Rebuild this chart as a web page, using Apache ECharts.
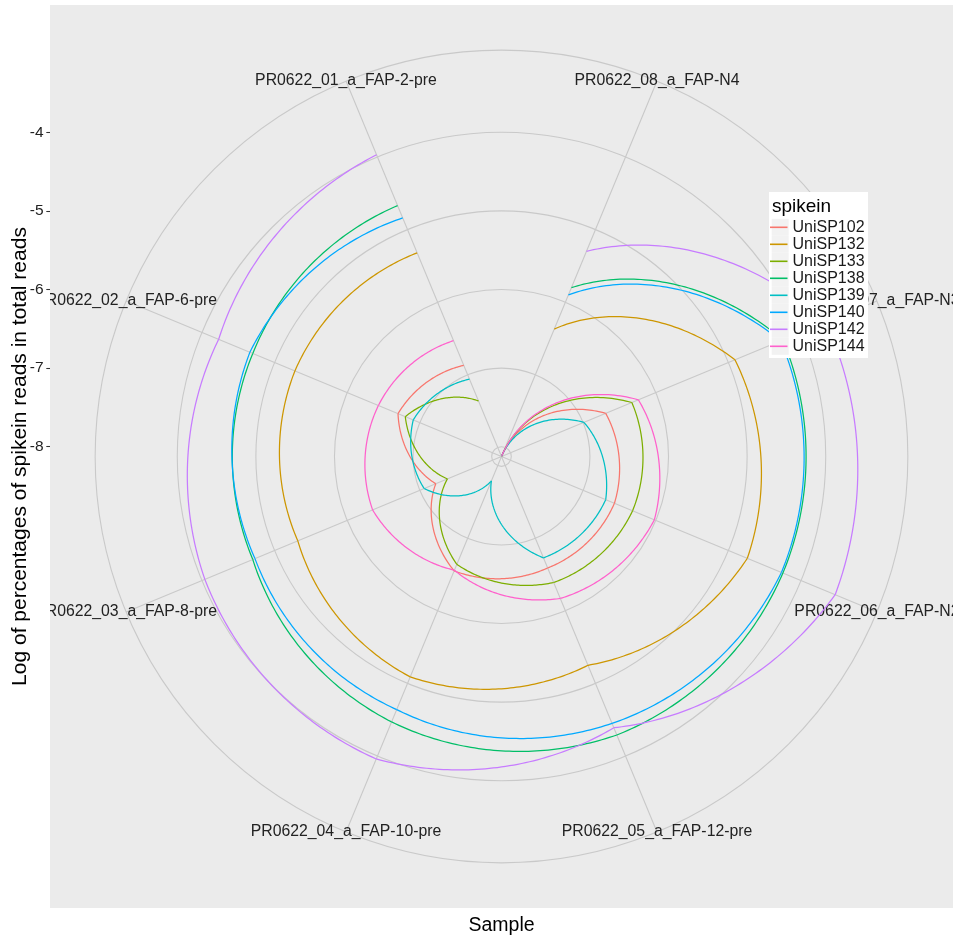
<!DOCTYPE html>
<html>
<head>
<meta charset="utf-8">
<script src="https://cdn.jsdelivr.net/npm/echarts@6/dist/echarts.min.js"></script>
<style>
  html, body { margin: 0; padding: 0; background: #ffffff; }
  #chart { width: 955px; height: 938px; }
</style>
</head>
<body>
<div id="chart"></div>
<script>
// Samples placed around the circle (theta), counter-clockwise from the top-left spoke
const samples = [
  'PR0622_01_a_FAP-2-pre',
  'PR0622_02_a_FAP-6-pre',
  'PR0622_03_a_FAP-8-pre',
  'PR0622_04_a_FAP-10-pre',
  'PR0622_05_a_FAP-12-pre',
  'PR0622_06_a_FAP-N2',
  'PR0622_07_a_FAP-N3',
  'PR0622_08_a_FAP-N4'
];

const spikeins = ['UniSP102', 'UniSP132', 'UniSP133', 'UniSP138', 'UniSP139', 'UniSP140', 'UniSP142', 'UniSP144'];

// Log of percentages of spikein reads in total reads, one value per sample
const UniSP102 = [-6.87, -6.70, -7.22, -6.55, -6.59, -6.57, -6.69, -8.12];
const UniSP132 = [-5.32, -5.28, -5.32, -5.09, -5.25, -4.74, -4.91, -6.37];
const UniSP133 = [-7.36, -6.80, -7.38, -6.64, -6.39, -6.32, -6.33, -8.12];
const UniSP138 = [-4.67, -4.70, -4.70, -4.47, -4.29, -4.25, -4.25, -5.80];
const UniSP139 = [-7.06, -6.91, -7.06, -7.79, -6.73, -6.69, -6.99, -8.12];
const UniSP140 = [-4.84, -4.66, -4.73, -4.64, -4.45, -4.27, -4.28, -5.90];
const UniSP142 = [-3.97, -4.23, -4.04, -3.96, -4.39, -3.53, -3.66, -5.30];
const UniSP144 = [-6.53, -6.43, -6.35, -6.56, -6.17, -6.02, -6.24, -8.12];

// Radial tick labels
const radialTicks = [-8, -7, -6, -5, -4];

const valuesBySpikein = { UniSP102, UniSP132, UniSP133, UniSP138, UniSP139, UniSP140, UniSP142, UniSP144 };
const palette = ['#F8766D', '#CD9600', '#7CAE00', '#00BE67', '#00BFC4', '#00A9FF', '#C77CFF', '#FF61CC'];

// ---- layout ----
const FONT = "'Liberation Sans', Arial, Helvetica, sans-serif";
const PANEL = { left: 50, top: 5, size: 903 };
const CX = PANEL.left + PANEL.size / 2;
const CY = PANEL.top + PANEL.size / 2;
const OUTER = 0.45 * PANEL.size;        // outer ring of the polar panel
const PX_PER_UNIT = 78.6;               // radial scale
const R_MIN = -8.125;                   // value at the centre
const R_OUTER = R_MIN + OUTER / PX_PER_UNIT;
const Y_TOP = R_MIN + (CY - PANEL.top) / PX_PER_UNIT;
const Y_BOTTOM = R_MIN - (PANEL.top + PANEL.size - CY) / PX_PER_UNIT;
const GRID_COLOR = '#C9C9C9';
const TEXT_COLOR = '#222222';

// A straight line in (theta, r) space is a spiral on screen: sample it finely via the polar coord.
function spiralSeries(name, values, color) {
  return {
    type: 'custom',
    name: name,
    coordinateSystem: 'polar',
    z: 3,
    silent: true,
    itemStyle: { color: color },
    data: values.map((v, i) => [v, i + 1]),
    renderItem: function (params, api) {
      const i = params.dataIndex;
      if (i >= values.length - 1) return { type: 'group', children: [] };
      const a0 = i + 1, v0 = values[i], v1 = values[i + 1];
      const steps = 60;
      const pts = [];
      for (let k = 0; k <= steps; k++) {
        const t = k / steps;
        pts.push(api.coord([v0 + (v1 - v0) * t, a0 + t]));
      }
      return {
        type: 'polyline',
        shape: { points: pts },
        style: { stroke: color, fill: null, lineWidth: 1.25 }
      };
    }
  };
}

// Concentric grid circles at the radial ticks
const ringSeries = {
  type: 'custom',
  coordinateSystem: 'polar',
  z: 1,
  silent: true,
  data: radialTicks.map(v => [v, 0]),
  renderItem: function (params, api) {
    const c = api.coord([R_MIN, 0]);
    const p = api.coord([api.value(0), 0]);
    const r = Math.hypot(p[0] - c[0], p[1] - c[1]);
    return {
      type: 'circle',
      shape: { cx: c[0], cy: c[1], r: r },
      style: { fill: null, stroke: GRID_COLOR, lineWidth: 1.1 }
    };
  }
};

// Sample names centred on the ends of the spokes
const sampleLabelSeries = {
  type: 'custom',
  coordinateSystem: 'polar',
  z: 2,
  silent: true,
  data: samples.map((s, i) => [R_OUTER, i + 1]),
  renderItem: function (params, api) {
    const p = api.coord([R_OUTER, api.value(1)]);
    return {
      type: 'text',
      x: p[0],
      y: p[1],
      style: {
        text: samples[params.dataIndex],
        fill: TEXT_COLOR,
        fontSize: 15.8,
        fontFamily: FONT,
        align: 'center',
        verticalAlign: 'middle'
      }
    };
  }
};

const LEGEND = { x: 769, y: 192, w: 99, h: 166, keyX: 771.7, keyY: 218.8, key: 17 };
const legendGraphics = [
  { type: 'rect', z: 5, silent: true, shape: { x: 0, y: 0, width: PANEL.left, height: 938 }, style: { fill: '#ffffff' } },
  { type: 'rect', z: 5, silent: true, shape: { x: PANEL.left + PANEL.size, y: 0, width: 10, height: 938 }, style: { fill: '#ffffff' } },
  { type: 'rect', z: 9, silent: true, shape: { x: LEGEND.x, y: LEGEND.y, width: LEGEND.w, height: LEGEND.h }, style: { fill: '#ffffff' } },
  { type: 'text', z: 10, silent: true, x: 772, y: 207, style: { text: 'spikein', fill: '#000000', fontSize: 19, fontFamily: FONT, verticalAlign: 'middle', align: 'left' } }
].concat(spikeins.map((s, k) => ({
  type: 'rect', z: 10, silent: true,
  shape: { x: LEGEND.keyX, y: LEGEND.keyY + k * LEGEND.key, width: LEGEND.key, height: LEGEND.key },
  style: { fill: '#F2F2F2' }
})));

const option = {
  animation: false,
  backgroundColor: '#ffffff',
  grid: {
    show: true,
    left: PANEL.left, top: PANEL.top, width: PANEL.size, height: PANEL.size,
    outerBoundsMode: 'none', containLabel: false,
    backgroundColor: '#EBEBEB', borderWidth: 0, z: 0
  },
  xAxis: {
    type: 'value', min: 0, max: 1, z: 12,
    axisLine: { show: false }, axisTick: { show: false }, axisLabel: { show: false }, splitLine: { show: false },
    name: 'Sample', nameLocation: 'middle', nameGap: 8,
    nameTextStyle: { fontSize: 19.5, color: '#000000', fontFamily: FONT, verticalAlign: 'top' }
  },
  yAxis: {
    type: 'value', min: Y_BOTTOM, max: Y_TOP, z: 12,
    axisLine: { show: false },
    axisTick: { show: true, length: 3.7, customValues: radialTicks, lineStyle: { color: '#333333', width: 1.07 } },
    axisLabel: { show: true, customValues: radialTicks, margin: 6.5, fontSize: 15.5, color: TEXT_COLOR, fontFamily: FONT },
    splitLine: { show: false },
    name: 'Log of percentages of spikein reads in total reads',
    nameLocation: 'middle', nameRotate: 90, nameGap: 19,
    nameMoveOverlap: false,
    nameTextStyle: { fontSize: 21, color: '#000000', fontFamily: FONT }
  },
  polar: { center: [CX, CY], radius: [0, OUTER] },
  angleAxis: {
    type: 'value', min: 0, max: 8, interval: 1,
    startAngle: 67.5, clockwise: false, z: 1,
    axisLine: { show: true, lineStyle: { color: GRID_COLOR, width: 1.1 } },
    axisTick: { show: false },
    axisLabel: { show: false },
    splitLine: { show: true, lineStyle: { color: GRID_COLOR, width: 1.1 } }
  },
  radiusAxis: {
    type: 'value', min: R_MIN, max: R_OUTER, z: 1,
    axisLine: { show: false }, axisTick: { show: false }, axisLabel: { show: false }, splitLine: { show: false }
  },
  legend: {
    orient: 'vertical',
    left: 770, top: LEGEND.keyY,
    padding: 0,
    itemWidth: 17.5, itemHeight: 1.6, itemGap: 0,
    icon: 'rect',
    selectedMode: false,
    z: 11,
    data: spikeins,
    textStyle: { fontSize: 16, color: '#1A1A1A', fontFamily: FONT, lineHeight: 17 }
  },
  graphic: { elements: legendGraphics },
  series: [ringSeries, sampleLabelSeries].concat(
    spikeins.map((s, k) => spiralSeries(s, valuesBySpikein[s], palette[k]))
  )
};

const chart = echarts.init(document.getElementById('chart'), null, { renderer: 'canvas' });
chart.setOption(option);
</script>
</body>
</html>
